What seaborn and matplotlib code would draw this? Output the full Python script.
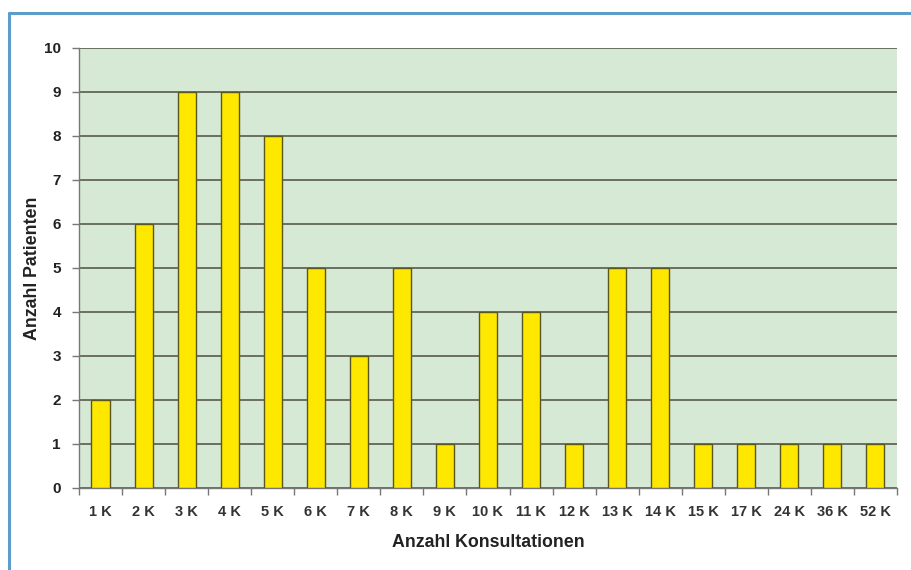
import matplotlib
matplotlib.use("Agg")
import matplotlib.pyplot as plt
from matplotlib.lines import Line2D
import seaborn as sns
import pandas as pd

# Consultations per patient
categories = ["1 K", "2 K", "3 K", "4 K", "5 K", "6 K", "7 K", "8 K", "9 K", "10 K",
              "11 K", "12 K", "13 K", "14 K", "15 K", "17 K", "24 K", "36 K", "52 K"]
patients = [2, 6, 9, 9, 8, 5, 3, 5, 1, 4, 4, 1, 5, 5, 1, 1, 1, 1, 1]
y_ticks = list(range(0, 11))

df = pd.DataFrame({"Konsultationen": categories, "Patienten": patients})

sns.set_style("white")
plt.rcParams["font.family"] = ["Liberation Sans", "DejaVu Sans"]

fig = plt.figure(figsize=(9.11, 5.70), dpi=100)
fig.patch.set_facecolor("white")
ax = fig.add_axes([0.0867, 0.1439, 0.8979, 0.7719])
ax.set_facecolor("#d6e9d5")

sns.barplot(data=df, x="Konsultationen", y="Patienten", order=categories,
            color="#ffe800", edgecolor="#5a5620", linewidth=1.0,
            width=0.42, saturation=1, ax=ax, zorder=3)

ax.set_ylim(0, 10)
ax.set_xlim(-0.5, len(categories) - 0.5)
ax.set_yticks(y_ticks)
ax.yaxis.grid(True, color="#4f4f45", linewidth=1.1, zorder=0)
ax.set_axisbelow(True)

for side in ["top", "right"]:
    ax.spines[side].set_visible(False)
for side in ["left", "bottom"]:
    ax.spines[side].set_color("#777777")
    ax.spines[side].set_linewidth(1.0)

# category separators as tick marks on the x axis
ax.set_xticks([i - 0.5 for i in range(len(categories) + 1)], minor=True)
ax.set_xticks(range(len(categories)))
ax.set_xticklabels(categories)
ax.tick_params(axis="x", which="major", bottom=False, length=0, pad=12,
               labelsize=10.5, labelcolor="#333333")
ax.tick_params(axis="x", which="minor", bottom=True, length=5, width=1,
               color="#777777", direction="out")
ax.tick_params(axis="y", which="major", left=True, length=5, width=1, color="#777777",
               direction="out", pad=8, labelsize=11, labelcolor="#222222")
for lbl in ax.get_xticklabels() + ax.get_yticklabels():
    lbl.set_fontweight("bold")

ax.set_xlabel("Anzahl Konsultationen", fontsize=12.8, fontweight="bold", color="#222222", labelpad=11)
ax.set_ylabel("Anzahl Patienten", fontsize=12.8, fontweight="bold", color="#222222", labelpad=2)

# outer blue frame (top and left edges)
frame_color = "#5d9ccb"
fig.add_artist(Line2D([9 / 911, 1.0], [1 - 13 / 570, 1 - 13 / 570], transform=fig.transFigure,
                      color=frame_color, linewidth=2.2))
fig.add_artist(Line2D([9 / 911, 9 / 911], [1 - 13 / 570, 0.0], transform=fig.transFigure,
                      color=frame_color, linewidth=2.2))

fig.savefig("out.png", dpi=100)
